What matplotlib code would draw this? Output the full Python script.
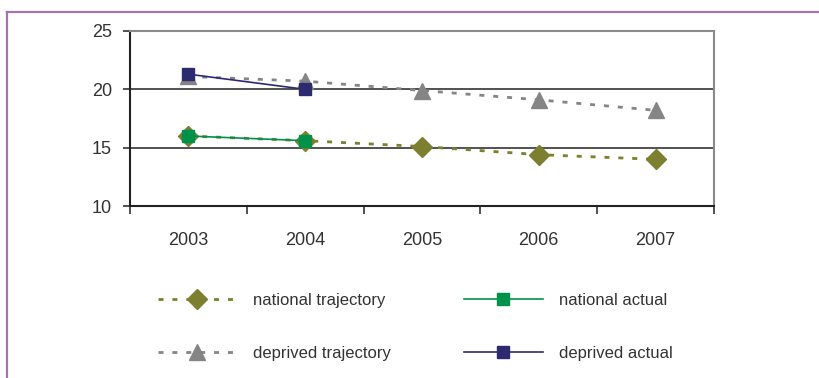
"""Trajectory vs actual rates, national and deprived areas, 2003-2007."""
import matplotlib

matplotlib.use("Agg")
import matplotlib.pyplot as plt
from matplotlib.lines import Line2D

plt.rcParams["font.family"] = ["Liberation Sans", "DejaVu Sans"]
plt.rcParams["text.color"] = "#333333"

years = ["2003", "2004", "2005", "2006", "2007"]
national_trajectory = [16.0, 15.6, 15.1, 14.4, 14.0]
deprived_trajectory = [21.1, 20.7, 19.9, 19.1, 18.2]
national_actual = [16.0, 15.6]
deprived_actual = [21.3, 20.0]
y_ticks = [10, 15, 20, 25]

OLIVE = "#7b7f2f"
GREY = "#858585"
GREEN = "#00924a"
NAVY = "#2e2a70"
FRAME = "#a474b2"

fig = plt.figure(figsize=(8.2, 3.78), dpi=100)
ax = fig.add_axes([0.1585, 0.455, 0.7122, 0.463])

x = list(range(len(years)))
dash = (0, (1.8, 3.2))
ax.plot(x, national_trajectory, color=OLIVE, lw=2, linestyle=dash, marker="D",
        markersize=10.5, label="national trajectory", zorder=3)
ax.plot(x, deprived_trajectory, color=GREY, lw=2, linestyle=dash, marker="^",
        markersize=11.5, label="deprived trajectory", zorder=3)
ax.plot(x[:len(national_actual)], national_actual, color=GREEN, lw=1.2, marker="s",
        markersize=9, label="national actual", zorder=4)
ax.plot(x[:len(deprived_actual)], deprived_actual, color=NAVY, lw=1.2, marker="s",
        markersize=9, label="deprived actual", zorder=4)

ax.set_xlim(-0.5, len(years) - 0.5)
ax.set_ylim(10, 25)
ax.set_yticks(y_ticks)
ax.set_xticks(x)
ax.set_xticklabels(years)
ax.set_xticks([i - 0.5 for i in range(len(years) + 1)], minor=True)
ax.tick_params(axis="x", which="major", length=0, pad=19, labelsize=13, labelcolor="#333333")
ax.tick_params(axis="x", which="minor", length=6, width=1.2, color="#333333")
ax.tick_params(axis="y", length=5, width=1.2, pad=8, labelsize=13, labelcolor="#333333",
               color="#333333")

for v in (15, 20):
    ax.axhline(v, color="#222222", lw=1.1, zorder=1)
for side in ("left", "bottom"):
    ax.spines[side].set_color("#222222")
    ax.spines[side].set_linewidth(1.5)
for side in ("top", "right"):
    ax.spines[side].set_color("#8a8a8a")
    ax.spines[side].set_linewidth(1.5)

h, l = ax.get_legend_handles_labels()
fig.legend(h, l, ncol=2, frameon=False,
           loc="upper left", bbox_to_anchor=(0.1927, 0.226), fontsize=12,
           handlelength=4.7, handletextpad=1.0, columnspacing=4.4, labelspacing=2.3,
           borderaxespad=0, borderpad=0)

# purple page frame (top and left edges)
fig.add_artist(Line2D([0.0085, 1.0], [1 - 12 / 378, 1 - 12 / 378], color=FRAME, lw=1.6,
                      transform=fig.transFigure))
fig.add_artist(Line2D([0.0085, 0.0085], [0.0, 1 - 12 / 378], color=FRAME, lw=1.6,
                      transform=fig.transFigure))

fig.savefig("out.png", dpi=100)
